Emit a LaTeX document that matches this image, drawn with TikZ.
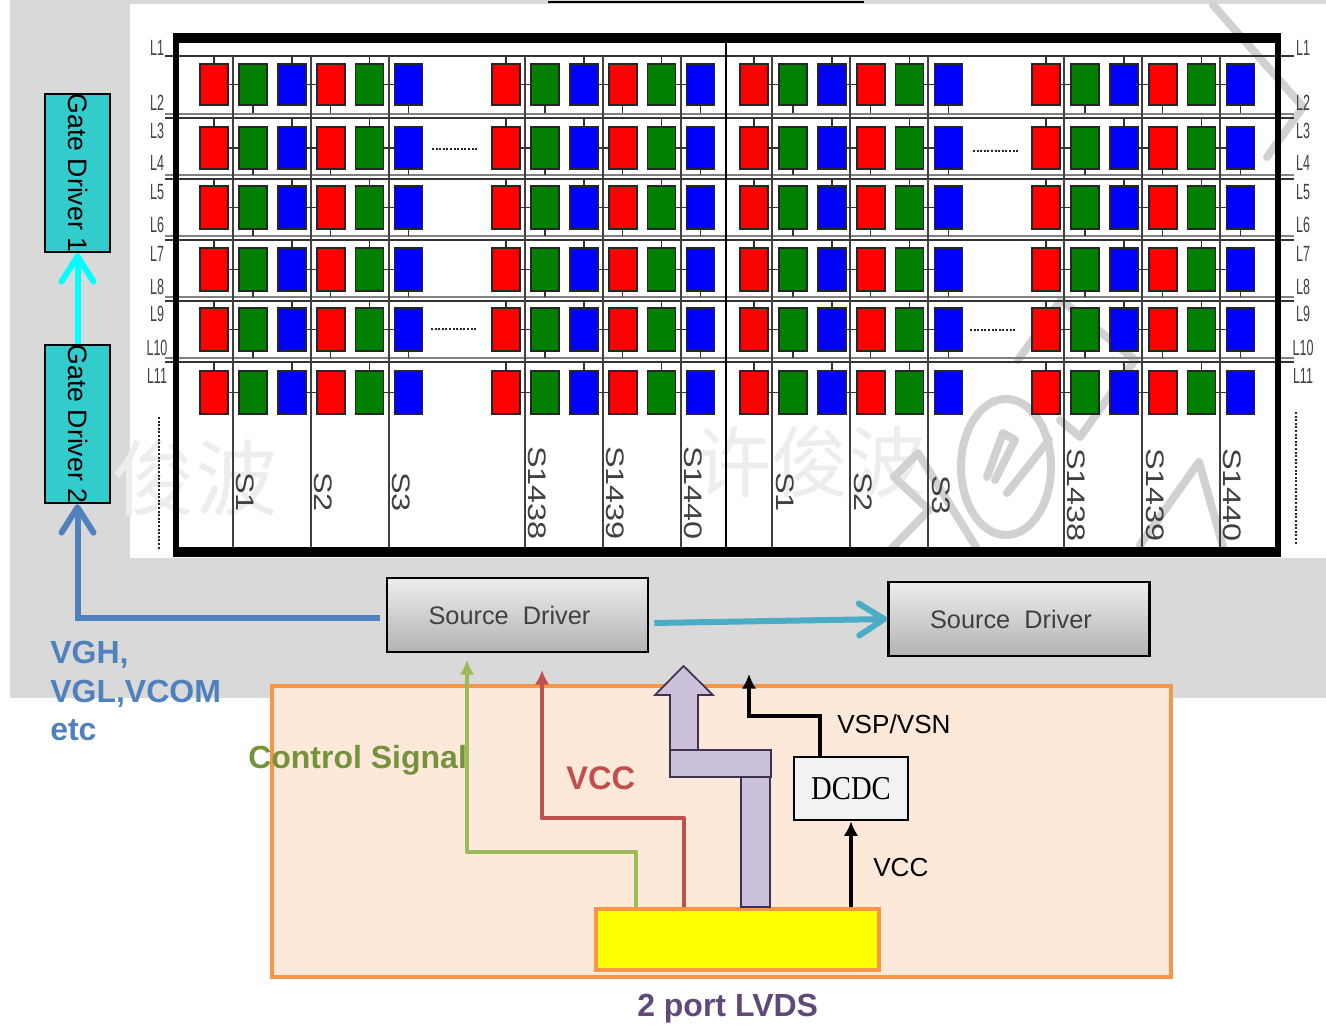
\documentclass[tikz,border=0pt]{standalone}
\usepackage{fontspec}
\setmainfont{Liberation Sans}
\newfontfamily\serifbox{Liberation Serif}
\newfontfamily\cjkmark{Noto Sans CJK SC}
\usetikzlibrary{arrows.meta}
\definecolor{panelgray}{HTML}{D9D9D9}
\definecolor{pixred}{HTML}{FF0000}
\definecolor{pixgreen}{HTML}{007F00}
\definecolor{pixblue}{HTML}{0000FF}
\definecolor{gateteal}{HTML}{33CCCC}
\definecolor{linkcyan}{HTML}{00FFFF}
\definecolor{padyellow}{HTML}{FFFF00}
\definecolor{boardfill}{HTML}{FDE9D9}
\definecolor{boardline}{HTML}{F79646}
\definecolor{vghblue}{HTML}{4F81BD}
\definecolor{linkteal}{HTML}{4BACC6}
\definecolor{ctrlgreen}{HTML}{9BBB59}
\definecolor{ctrltext}{HTML}{76923C}
\definecolor{vccred}{HTML}{C0504D}
\definecolor{lvdslilac}{HTML}{CCC1DA}
\definecolor{lvdsline}{HTML}{403152}
\definecolor{lvdstext}{HTML}{5F497A}
\begin{document}
\begin{tikzpicture}[x=0.75pt, y=-0.75pt, >=latex,
    pixel/.style={draw=black!85, line width=1.2pt},
    wire/.style={black!80, line width=1.1pt},
    mark stroke/.style={black!18, line width=6pt, line join=round, line cap=round},
    gate label/.style={font=\fontsize{16.5}{16.5}\selectfont, text=black!75, transform shape, xscale=0.57, inner sep=0pt},
    source label/.style={font=\fontsize{19}{19}\selectfont, text=black!75, rotate=-90, inner sep=0pt},
    gatebox/.style={draw=black, line width=1.5pt, fill=gateteal, rotate=-90, minimum width=158*0.75pt, minimum height=65*0.75pt, inner sep=0pt, font=\fontsize{20}{20}\selectfont},
    sourcebox/.style={draw=black, line width=1.9pt, top color=black!7, bottom color=black!30, minimum width=261*0.75pt, minimum height=74*0.75pt, font=\fontsize{19}{19}\selectfont, text=black!75},
    open head/.style={-{Straight Barb[length=19pt, width=24pt, round]}},
    solid head/.style={-{Latex[length=11pt, width=11pt]}}]
    \useasboundingbox (0,0) rectangle (1326,1027);

    % 1. Background and the white panel
    \fill[panelgray] (10,0) rectangle (1326,698);
    \fill[white] (130,4) rectangle (1326,558);
    \draw[black, line width=1.5pt] (548,2) -- (864,2);

    % 2. Faint marks behind the panel
    \node[text=black!7, font=\cjkmark\fontsize{62}{62}\selectfont, inner sep=0pt] (markleft) at (195,478) {俊波};
    \node[text=black!7, font=\cjkmark\fontsize{58}{58}\selectfont, inner sep=0pt] (markmid) at (810,462) {许俊波};
    \draw[mark stroke] (1213,5) -- (1303,107) -- (1267,157);
    \draw[mark stroke] (1018,360) -- (1061,300) -- (1135,360) -- (1080,437) -- (1060,420);
    \draw[mark stroke] (1006,467) ellipse (45 and 68);
    \draw[mark stroke] (987,477) -- (1003,433) -- (1015,440) -- (995,480);
    \draw[mark stroke] (1007,493) -- (1049,440);
    \draw[mark stroke] (894,477) -- (918,453) -- (976,547);
    \draw[mark stroke] (894,477) -- (929,510) -- (890,550);
    \draw[mark stroke] (1179,490) -- (1199,462) -- (1224,550);
    \draw[mark stroke] (1140,545) -- (1179,490);

    % 3. Gate lines, source lines and the frame
    \draw[black!80, line width=1.2pt] (165,56) -- (1294,56);
    \foreach \liney in {114,175,236,297,358} {
        \draw[black!50, line width=1.6pt] (165,\liney) -- (1294,\liney);
        \draw[black!80, line width=1.6pt] (165,\liney+4) -- (1294,\liney+4);
    }
    \foreach \srcx in {233,311,389,525,603,681,772,850,928,1064,1142,1220} {
        \draw[black!75, line width=1pt] (\srcx,56) -- (\srcx,551);
    }
    \draw[black, line width=1.4pt] (726,38) -- (726,551);
    \draw[black, line width=4.5pt, line join=miter] (176,38) rectangle (1278,552);
    \draw[black, line width=7.2pt] (173,38) -- (1281,38);
    \draw[black, line width=7.2pt] (173,552) -- (1281,552);

    % 4. Sub-pixels with their short wires
    \foreach \groupx in {214,506,754,1046} {
        \foreach \rowtop/\rowbot/\botstub in {64/105/8,127/169/6,186/229/7,248/291/6,308/351/7,371/414/0} {
            \foreach \i in {0,2,4} {
                \draw[wire] ({\groupx+38.9*\i},\rowtop) -- ++(0,-8);
                \draw[wire] ({\groupx+38.9*\i+14},{(\rowtop+\rowbot)/2}) -- ++(11,0);
                \draw[wire] ({\groupx+38.9*(\i+1)},\rowbot) -- ++(0,\botstub);
            }
            \foreach \i/\pixcolor in {0/pixred,1/pixgreen,2/pixblue,3/pixred,4/pixgreen,5/pixblue} {
                \draw[pixel, fill=\pixcolor] ({\groupx+38.9*\i-14},\rowtop) rectangle ({\groupx+38.9*\i+14},\rowbot);
            }
        }
    }

    % 5. Dotted runs
    \draw[black!85, line width=1.2pt, dash pattern=on 1.5pt off 1.2pt] (432,149) -- (478,149);
    \draw[black!85, line width=1.2pt, dash pattern=on 1.5pt off 1.2pt] (431,329) -- (477,329);
    \draw[black!85, line width=1.2pt, dash pattern=on 1.5pt off 1.2pt] (973,151) -- (1019,151);
    \draw[black!85, line width=1.2pt, dash pattern=on 1.5pt off 1.2pt] (970,330) -- (1016,330);
    \draw[black!85, line width=1pt, dash pattern=on 1.5pt off 1.2pt] (159,417) -- (159,550);
    \draw[black!85, line width=1pt, dash pattern=on 1.5pt off 1.2pt] (1296,412) -- (1296,545);

    % 6. Gate line and source line names
    \foreach \lname/\ly in {L1/48,L2/103,L3/131,L4/163,L5/192,L6/225,L7/254,L8/287,L9/314,L10/348,L11/376} {
        \node[gate label] (left\lname) at (157,\ly) {\lname};
        \node[gate label] (right\lname) at (1303,\ly) {\lname};
    }
    \foreach \sname/\sx/\sy in {S1/245/492,S2/323/492,S3/401/492,S1438/537/493,S1439/615/493,S1440/693/493,S1/785/492,S2/863/492,S3/941/495,S1438/1076/495,S1439/1155/495,S1440/1232/495} {
        \node[source label] (label\sx) at (\sx,\sy) {\scalebox{1.28}[1]{\sname}};
    }

    % 7. Lower board
    \fill[boardfill] (272,686) rectangle (1171,977);
    \draw[boardline, line width=3pt] (272,686) rectangle (1171,977);

    % 8. Driver boxes
    \node[gatebox] (gd1) at (77.5,173) {\raisebox{1pt}{Gate Driver 1}};
    \node[gatebox] (gd2) at (77.5,424) {\raisebox{1pt}{Gate Driver 2}};
    \node[sourcebox] (sd1) at (517.5,615) {Source\ \ Driver\kern12pt};
    \node[sourcebox] (sd2) at (1019,619) {Source\ \ Driver\kern12pt};
    \node[draw=black, line width=1.9pt, fill=black!5, minimum width=114*0.75pt, minimum height=63*0.75pt, font=\serifbox\fontsize{25}{25}\selectfont] (dcdc) at (851,788.5) {\scalebox{0.86}[1]{DCDC}};
    \node[draw=boardline, line width=3.4pt, fill=padyellow, minimum width=283*0.75pt, minimum height=61*0.75pt] (lvds) at (737.5,939.5) {};

    % 9. Block arrow out of the LVDS box
    \draw[lvdsline, line width=1pt, fill=lvdslilac] (741,907) -- (741,777) -- (770,777) -- (770,907) -- cycle;
    \draw[lvdsline, line width=1.3pt, fill=lvdslilac, line join=miter] (670,750) -- (670,695) -- (655,695) -- (683.5,666) -- (713,695) -- (698,695) -- (698,750) -- cycle;
    \draw[lvdsline, line width=1pt, fill=lvdslilac] (670,750) rectangle (771,777);

    % 10. Connectors
    \draw[linkcyan, line width=4.5pt, open head] (gd2.west) -- (gd1.east);
    \draw[vghblue, line width=4.5pt, line join=miter, open head] (sd1.west) ++(-6,3) -| (gd2.east);
    \draw[linkteal, line width=4.5pt, open head] (sd1.east) ++(5,8) -- (sd2.west);
    \draw[ctrlgreen, line width=3.6pt, line join=round, solid head] (lvds.north -| 636,0) -- (636,852) -- (467,852) -- (467,660);
    \draw[vccred, line width=3.6pt, line join=round, solid head] (lvds.north -| 684,0) -- (684,818) -- (542,818) -- (542,670);
    \draw[black, line width=3.6pt, line join=miter, solid head] (dcdc.north -| 820,0) -- (820,716) -- (749,716) -- (749,674);
    \draw[black, line width=3.6pt, solid head] (lvds.north -| dcdc.south) -- (dcdc.south);

    % 11. Free labels
    \node[anchor=west, align=left, text=vghblue, inner sep=0pt, font=\bfseries\fontsize{24}{29}\selectfont] (vghtext) at (50,691) {VGH,\\VGL,VCOM\\etc};
    \node[anchor=west, text=ctrltext, inner sep=0pt, font=\bfseries\fontsize{24}{24}\selectfont] (ctrltext) at (248,760) {Control Signal};
    \node[anchor=west, text=vccred, inner sep=0pt, font=\bfseries\fontsize{24.5}{24.5}\selectfont] (vcctext) at (566,778) {VCC};
    \node[anchor=west, inner sep=0pt, font=\fontsize{19.6}{19.6}\selectfont] (vsptext) at (837,724) {VSP/VSN};
    \node[anchor=west, inner sep=0pt, font=\fontsize{19.6}{19.6}\selectfont] (vccin) at (873,867) {VCC};
    \node[anchor=west, text=lvdstext, inner sep=0pt, font=\bfseries\fontsize{24}{24}\selectfont] (lvdstext) at (637,1009) {2 port LVDS};
\end{tikzpicture}
\end{document}
